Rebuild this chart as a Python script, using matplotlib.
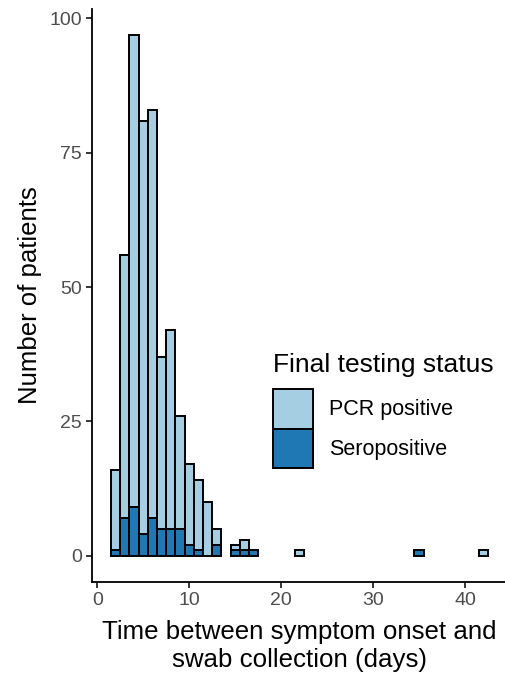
import numpy as np
import matplotlib
matplotlib.use("Agg")
import matplotlib.pyplot as plt
from matplotlib.patches import Patch

plt.rcParams['font.family'] = ['Liberation Sans', 'DejaVu Sans']

# Datos
days = [2, 3, 4, 5, 6, 7, 8, 9, 10, 11, 12, 13, 15, 16, 17, 22, 35, 42]
sero = [1, 7, 9, 4, 7, 5, 5, 5, 2, 1, 0, 2, 1, 1, 1, 0, 1, 0]
pcr = [15, 49, 88, 77, 76, 32, 37, 21, 15, 13, 10, 3, 1, 2, 0, 1, 0, 1]

light = '#a6cee3'
dark = '#1f78b4'

days = np.array(days)
sero = np.array(sero)
pcr = np.array(pcr)

W, H = 505, 677
fig = plt.figure(figsize=(W / 100, H / 100), dpi=100)
ax = fig.add_axes([0.1826, 0.1408, 0.821, 0.8466])

m = sero > 0
ax.bar(days[m], sero[m], width=1, color=dark, edgecolor='black', linewidth=1.4)
m = pcr > 0
ax.bar(days[m], pcr[m], width=1, bottom=sero[m], color=light,
       edgecolor='black', linewidth=1.4)

ax.set_xlim(-0.55, 44.55)
ax.set_ylim(-4.85, 101.85)
ax.set_xticks([0, 10, 20, 30, 40])
ax.set_yticks([0, 25, 50, 75, 100])

for s in ['top', 'right']:
    ax.spines[s].set_visible(False)
for s in ['left', 'bottom']:
    ax.spines[s].set_linewidth(1.3)
ax.tick_params(length=4, width=1.1, labelsize=14, labelcolor='#4d4d4d')

ax.set_ylabel('Number of patients', fontsize=18.5, labelpad=5)
ax.set_xlabel('Time between symptom onset and\nswab collection (days)',
              fontsize=18.6, labelpad=8, linespacing=1.18)

# leyenda
fig.text(273 / W, 1 - 372 / H, 'Final testing status', fontsize=19,
         ha='left', va='baseline')
handles = [Patch(facecolor=light, edgecolor='black', linewidth=1.4),
           Patch(facecolor=dark, edgecolor='black', linewidth=1.4)]
fs = 15.5
key = 39.5 * 0.72 / fs
leg = fig.legend(handles, ['PCR positive', 'Seropositive'],
                 fontsize=fs, frameon=False, loc='upper left',
                 bbox_to_anchor=(273 / W, 1 - 389 / H),
                 handlelength=key, handleheight=(key - 0.245) / 0.65,
                 labelspacing=0, handletextpad=0.75, borderpad=0,
                 borderaxespad=0)

fig.savefig('out.png', dpi=100)
